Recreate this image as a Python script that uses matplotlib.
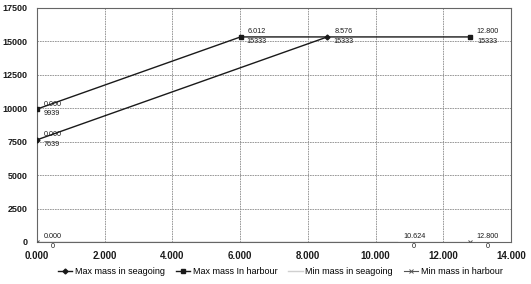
import matplotlib
matplotlib.use("Agg")
import matplotlib.pyplot as plt
from matplotlib.lines import Line2D

plt.rcParams['font.family'] = ['Liberation Sans', 'DejaVu Sans']

# Data
x_max_sea = [0.000, 8.576]
y_max_sea = [7639, 15333]
x_max_har = [0.000, 6.012, 12.800]
y_max_har = [9939, 15333, 15333]
x_min_sea = [0.000, 10.624]
y_min_sea = [0, 0]
x_min_har = [0.000, 12.800]
y_min_har = [0, 0]

series_names = ["Max mass in seagoing", "Max mass In harbour",
                "Min mass in seagoing", "Min mass in harbour"]

x_ticks = [0, 2, 4, 6, 8, 10, 12, 14]
y_ticks = [0, 2500, 5000, 7500, 10000, 12500, 15000, 17500]

# labelled points: (x, y)
labels_max_sea = [(0.000, 7639), (8.576, 15333)]
labels_max_har = [(0.000, 9939), (6.012, 15333), (12.800, 15333)]
labels_min_sea = [(10.624, 0)]
labels_min_har = [(0.000, 0), (12.800, 0)]

fig = plt.figure(figsize=(5.31, 2.84), dpi=100)
ax = fig.add_axes([0.0697, 0.148, 0.8925, 0.824])

ink = '#1a1a1a'
ax.plot(x_min_sea, y_min_sea, color='#d0d0d0', lw=1.0, zorder=2)
ax.plot(x_min_har, y_min_har, color='#555555', lw=0.8, marker='x', ms=3,
        mew=0.7, zorder=3)
ax.plot(x_max_sea, y_max_sea, color=ink, lw=1.0, marker='D', ms=2.5, zorder=4)
ax.plot(x_max_har, y_max_har, color=ink, lw=1.0, marker='s', ms=3, zorder=4)

def label(pts):
    for x, y in pts:
        ax.annotate(f"{x:.3f}\n{y:d}", (x, y), xytext=(4.5, 0.3),
                    textcoords='offset points', ha='left', va='center',
                    multialignment='center', linespacing=1.45,
                    fontsize=5.2, color=ink)

for pts in (labels_max_sea, labels_max_har, labels_min_sea, labels_min_har):
    label(pts)

ax.set_xlim(0, 14)
ax.set_ylim(0, 17500)
ax.set_xticks(x_ticks)
ax.set_xticklabels([f"{v:.3f}" for v in x_ticks])
ax.set_yticks(y_ticks)
ax.set_yticklabels([str(v) for v in y_ticks])
ax.tick_params(length=0, labelsize=6.5, pad=7, labelcolor=ink)
ax.tick_params(axis='x', labelsize=7, pad=6.5)
for t in ax.get_xticklabels() + ax.get_yticklabels():
    t.set_fontweight('bold')
ax.grid(True, color='#8a8a8a', lw=0.6, ls=(0, (2, 1)))
ax.set_axisbelow(True)
for s in ax.spines.values():
    s.set_color('#666666')
    s.set_linewidth(0.8)

handles = [
    Line2D([], [], color=ink, lw=1.0, marker='D', ms=2.5),
    Line2D([], [], color=ink, lw=1.0, marker='s', ms=3),
    Line2D([], [], color='#d0d0d0', lw=1.0),
    Line2D([], [], color='#555555', lw=0.8, marker='x', ms=3, mew=0.7),
]
fig.legend(handles, series_names, loc='center', bbox_to_anchor=(0.528, 0.045),
           ncol=4, frameon=False, fontsize=6.5, handlelength=1.6,
           handletextpad=0.3, columnspacing=1.2)

fig.savefig("out.png", dpi=100)
